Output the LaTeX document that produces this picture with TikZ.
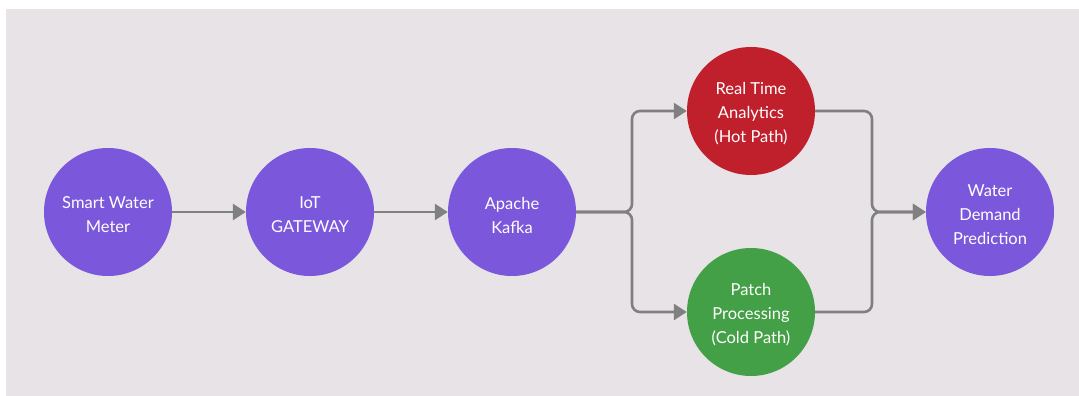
\documentclass[tikz,border=0pt]{standalone}
\usepackage{fontspec}
\setmainfont{Lato}
\usetikzlibrary{arrows.meta}
\definecolor{bgc}{HTML}{E7E3E7}
\definecolor{purp}{HTML}{7B57DC}
\definecolor{hot}{HTML}{C01F2C}
\definecolor{cold}{HTML}{43A047}
\definecolor{conn}{HTML}{808080}
\tikzset{
  circ/.style={circle, minimum size=128pt, inner sep=0pt},
  lab/.style={text=white, align=center, inner sep=0pt, yshift=-3pt,
    font=\fontsize{16.5}{24}\selectfont},
  link/.style={draw=conn, line width=2.6pt, rounded corners=8pt,
    -{Triangle[length=13pt,width=16pt]}}
}
\begin{document}
\begin{tikzpicture}[x=1pt,y=-1pt]
\fill[white] (0,0) rectangle (1079,396);
\fill[bgc] (6,9) rectangle (1079,396);
\useasboundingbox (0,0) rectangle (1079,396);
\node[circ, fill=purp, label={[lab]center:Smart Water\\Meter}] (meter) at (108,212) {};
\node[circ, fill=purp, label={[lab]center:IoT\\GATEWAY}] (gw) at (310,212) {};
\node[circ, fill=purp, label={[lab]center:Apache\\Kafka}] (kafka) at (512,212) {};
\node[circ, fill=hot, label={[lab]center:Real Time\\Analytics\\(Hot Path)}] (rt) at (751,111) {};
\node[circ, fill=cold, label={[lab]center:Patch\\Processing\\(Cold Path)}] (batch) at (751,312) {};
\node[circ, fill=purp, label={[lab]center:Water\\Demand\\Prediction}] (pred) at (990,212) {};
\coordinate (sj) at (632,212);
\coordinate (mj) at (872,212);
\draw[link] (meter) -- (gw);
\draw[link] (gw) -- (kafka);
\draw[link] (kafka.east) -- (sj) |- (rt.west);
\draw[link] (kafka.east) -- (sj) |- (batch.west);
\draw[link] (rt.east) -| (mj) -- (pred.west);
\draw[link] (batch.east) -| (mj) -- (pred.west);
\end{tikzpicture}
\end{document}
